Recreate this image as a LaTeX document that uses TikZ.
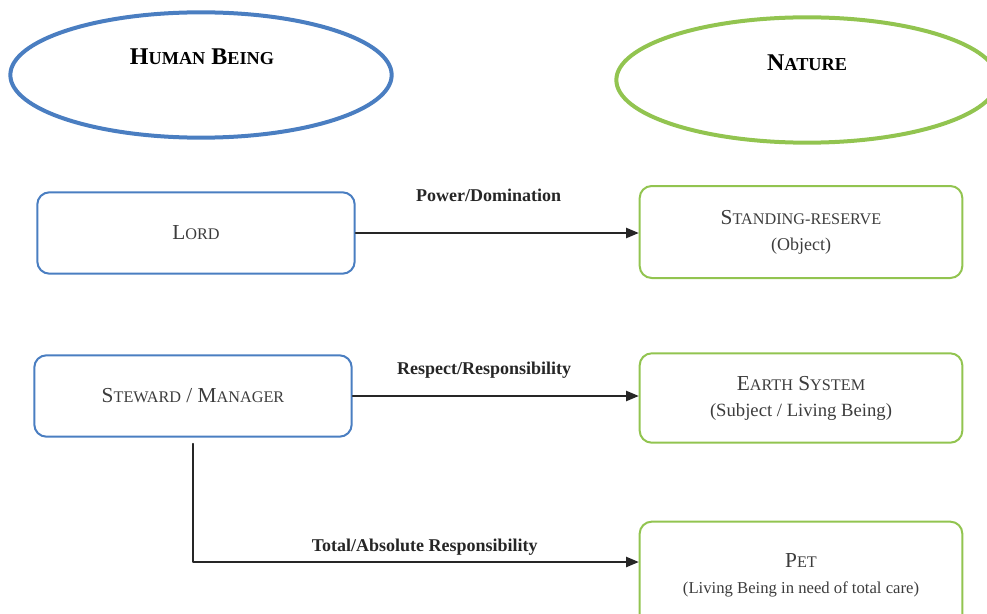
\documentclass[tikz,border=0pt]{standalone}
\usepackage{fontspec}
\setmainfont{Liberation Serif}
\usepackage{graphicx}
\usepackage{color}
\usetikzlibrary{arrows}
\usetikzlibrary{shapes.geometric}
\usetikzlibrary{positioning}

\definecolor{humanblue}{RGB}{74,126,193}
\definecolor{naturegreen}{RGB}{146,196,80}
\definecolor{boxtext}{RGB}{60,60,60}

% capital, then the rest as smaller capitals
\newcommand{\fakesc}[2]{#1\scalebox{0.76}{#2}}

\tikzset{
  oval/.style={ellipse, line width=3pt, minimum width=286pt, minimum height=94pt, inner sep=0pt},
  headtext/.style={font=\bfseries\fontsize{18}{22}\selectfont, inner sep=0pt},
  humanbox/.style={draw=humanblue, line width=1.5pt, rounded corners=9pt, minimum width=238pt, minimum height=61pt, text=boxtext, align=center, font=\fontsize{16}{19.5}\selectfont},
  naturebox/.style={draw=naturegreen, line width=1.5pt, rounded corners=9pt, minimum width=242pt, minimum height=67pt, text=boxtext, align=center, font=\fontsize{16}{19.5}\selectfont},
  linklabel/.style={font=\bfseries\fontsize{13.5}{15}\selectfont, inner sep=0pt},
  link/.style={->, line width=1.2pt, color=black!85}
}

\begin{document}
\begin{tikzpicture}[x=0.75pt,y=-0.75pt, line cap=round,line join=round,>=triangle 45]
    \useasboundingbox (0,0) rectangle (987,613);
    % the two sides
    \node[oval, draw=humanblue] (human) at (201,75) {};
    \node[headtext] (humanname) at (202,57) {\fakesc{H}{UMAN} \fakesc{B}{EING}};
    \node[oval, draw=naturegreen] (nature) at (807,80) {};
    \node[headtext] (naturename) at (807,63) {\fakesc{N}{ATURE}};
    % roles of the human being
    \node[humanbox] (lord) at (196,233) {\fakesc{L}{ORD}};
    \node[humanbox] (steward) at (193,396) {\fakesc{S}{TEWARD} / \fakesc{M}{ANAGER}};
    % views of nature
    \node[naturebox, minimum height=69pt] (standing) at (801,232)
      {\fakesc{S}{TANDING-RESERVE}\\{\fontsize{13.5}{19.5}\selectfont (Object)}};
    \node[naturebox] (earth) at (801,398)
      {\fakesc{E}{ARTH} \fakesc{S}{YSTEM}\\{\fontsize{14}{19.5}\selectfont (Subject / Living Being)}};
    \node[naturebox, minimum height=80pt] (pet) at (801,575)
      {\fakesc{P}{ET}\\{\fontsize{12.5}{19.5}\selectfont (Living Being in need of total care)}};
    \coordinate (turn) at (193,562);
    % relations
    \draw[link] (lord.east) -- node[linklabel, pos=0.47, yshift=28.5pt] {Power/Domination} (lord.east -| standing.west);
    \draw[link] (steward.east) -- node[linklabel, pos=0.46, yshift=19.5pt] {Respect/Responsibility} (steward.east -| earth.west);
    \draw[link] ([yshift=-4.5pt]steward.south) |- node[linklabel, pos=0.76, yshift=11pt] {Total/Absolute Responsibility} (turn -| pet.west);
  \end{tikzpicture}
\end{document}
